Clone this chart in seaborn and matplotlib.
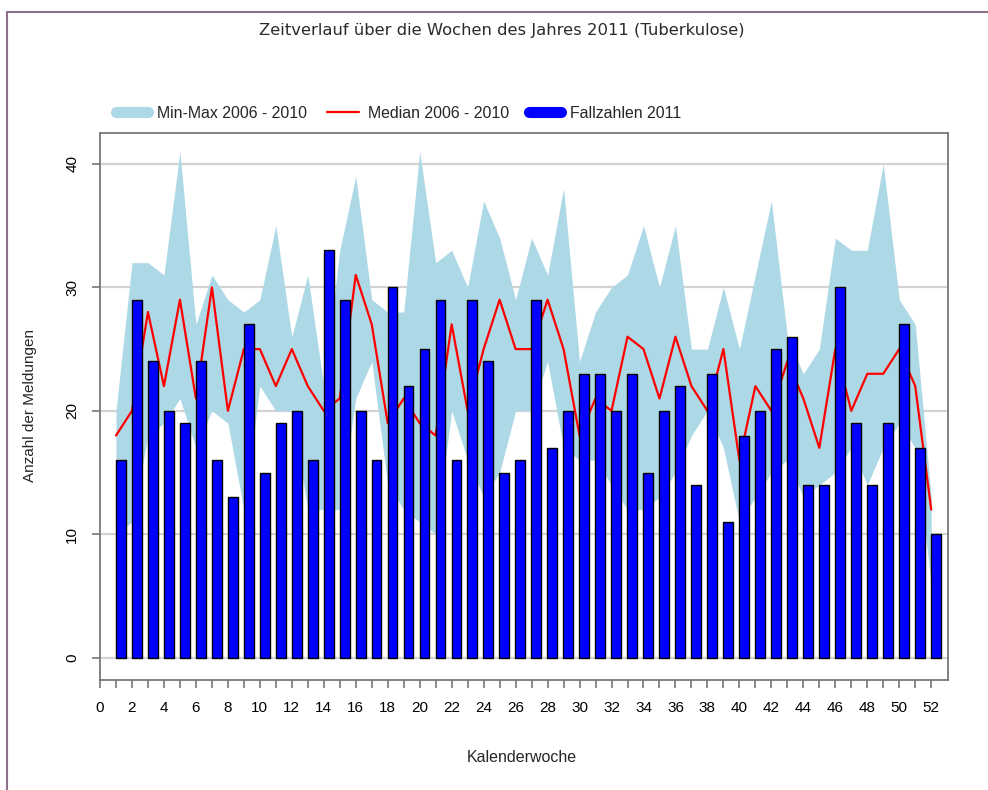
import numpy as np
import pandas as pd
import matplotlib
matplotlib.use("Agg")
import matplotlib.pyplot as plt
from matplotlib.lines import Line2D
import seaborn as sns

weeks = list(range(1, 53))
cases_2011 = [16, 29, 24, 20, 19, 24, 16, 13, 27, 15, 19, 20, 16, 33, 29, 20, 16, 30, 22, 25,
              29, 16, 29, 24, 15, 16, 29, 17, 20, 23, 23, 20, 23, 15, 20, 22, 14, 23, 11, 18,
              20, 25, 26, 14, 14, 30, 19, 14, 19, 27, 17, 10]
median_0610 = [18, 20, 28, 22, 29, 21, 30, 20, 25, 25, 22, 25, 22, 20, 21, 31, 27, 19, 21, 19,
               18, 27, 20, 25, 29, 25, 25, 29, 25, 18, 21, 20, 26, 25, 21, 26, 22, 20, 25, 16,
               22, 20, 24, 21, 17, 25, 20, 23, 23, 25, 22, 12]
min_0610 = [10, 11, 18, 19, 21, 17, 20, 19, 12, 22, 20, 20, 12, 12, 12, 21, 24, 14, 12, 11,
            10, 20, 16, 13, 15, 20, 20, 24, 17, 16, 16, 14, 12, 12, 13, 15, 18, 20, 17, 11,
            13, 15, 16, 13, 14, 15, 17, 14, 17, 19, 17, 6]
max_0610 = [20, 32, 32, 31, 41, 27, 31, 29, 28, 29, 35, 26, 31, 22, 33, 39, 29, 28, 28, 41,
            32, 33, 30, 37, 34, 29, 34, 31, 38, 24, 28, 30, 31, 35, 30, 35, 25, 25, 30, 25,
            31, 37, 26, 23, 25, 34, 33, 33, 40, 29, 27, 13]
x_tick_values = list(range(0, 53))
y_tick_values = [0, 10, 20, 30, 40]

title = "Zeitverlauf über die Wochen des Jahres 2011 (Tuberkulose)"
legend_labels = ["Min-Max 2006 - 2010", "Median 2006 - 2010", "Fallzahlen 2011"]

df = pd.DataFrame({"week": weeks, "cases": cases_2011, "median": median_0610,
                   "lo": min_0610, "hi": max_0610})
df["bar_x"] = df["week"] + 0.3  # bars drawn to the right of the week tick

sns.set_theme(style="white")
plt.rcParams["font.family"] = ["Liberation Sans", "DejaVu Sans"]

fig = plt.figure(figsize=(9.88, 7.90), dpi=100)
ax = fig.add_axes([100 / 988, 1 - 680 / 790, 848 / 988, 547 / 790])

for v in y_tick_values:
    ax.axhline(v, color="#d3d3d3", lw=1.6, zorder=0)

ax.fill_between(df["week"], df["lo"], df["hi"], color="#add8e6", lw=0, zorder=1)
sns.lineplot(data=df, x="week", y="median", color="#ff0000", lw=1.6, ax=ax, zorder=2)
sns.barplot(data=df, x="bar_x", y="cases", native_scale=True, width=0.62,
            color="#0000ff", saturation=1, edgecolor="black", linewidth=1.0,
            ax=ax, zorder=3)

ax.set_xlim(0, 53.05)
ax.set_ylim(-1.8, 42.5)
ax.set_xticks(x_tick_values)
ax.set_xticklabels([str(t) if t % 2 == 0 else "" for t in x_tick_values])
ax.set_yticks(y_tick_values)
ax.set_yticklabels([str(t) for t in y_tick_values], rotation=90, va="center")
ax.grid(False)

for s in ax.spines.values():
    s.set_visible(True)
    s.set_color("#777777")
    s.set_linewidth(1.3)
ax.tick_params(axis="both", direction="out", length=6, width=1.2, color="#777777",
               labelcolor="black", labelsize=11, pad=9, bottom=True, left=True)

ax.set_xlabel("Kalenderwoche", fontsize=11.5)
ax.set_ylabel("Anzahl der Meldungen", fontsize=11)
ax.xaxis.set_label_coords((522 - 100) / 848, (680 - 757) / 547)
ax.yaxis.set_label_coords((30 - 100) / 848, (680 - 405) / 547)
ax.xaxis.label.set_va("center")
ax.yaxis.label.set_va("center")

handles = [Line2D([0], [0], color="#add8e6", lw=8, solid_capstyle="round"),
           Line2D([0], [0], color="#ff0000", lw=1.6),
           Line2D([0], [0], color="#0000ff", lw=8, solid_capstyle="round")]
fig.legend(handles, legend_labels, loc="center left",
           bbox_to_anchor=(116 / 988, 1 - 113 / 790), ncol=3, frameon=False,
           fontsize=11.4, handlelength=2.0, handletextpad=0.6, columnspacing=1.25,
           borderpad=0, borderaxespad=0)

fig.text(502 / 988, 1 - 30 / 790, title, ha="center", va="center", fontsize=11.8,
         family=["DejaVu Sans"], color="#2a2a2a")

frame_color = "#8a7088"
fig.add_artist(Line2D([7 / 988, 7 / 988], [0, 1 - 12 / 790], transform=fig.transFigure,
                      color=frame_color, lw=1.5))
fig.add_artist(Line2D([7 / 988, 1], [1 - 12 / 790, 1 - 12 / 790], transform=fig.transFigure,
                      color=frame_color, lw=1.5))

fig.savefig("out.png", dpi=100)
